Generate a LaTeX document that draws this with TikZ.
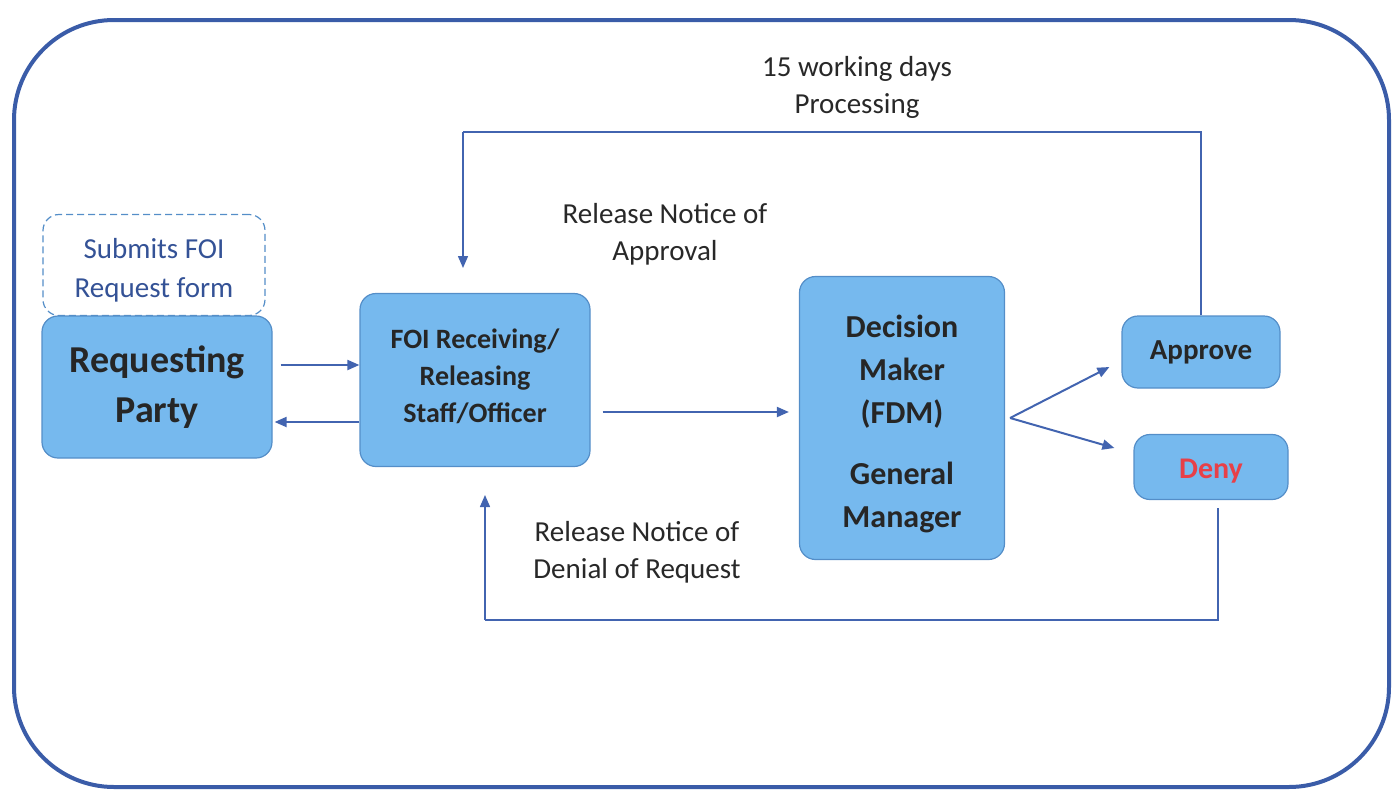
\documentclass[tikz,border=0pt]{standalone}
\usepackage{fontspec}
\setmainfont{Carlito}
\usetikzlibrary{arrows.meta,calc}
\definecolor{framecol}{RGB}{58,92,168}
\definecolor{boxfill}{RGB}{118,185,238}
\definecolor{boxline}{RGB}{84,142,200}
\definecolor{linkcol}{RGB}{66,100,176}
\definecolor{notecol}{RGB}{52,82,150}
\definecolor{denycol}{RGB}{232,64,72}
\definecolor{txtcol}{RGB}{40,40,40}
\tikzset{
  actor/.style={draw=boxline, line width=1.2pt, fill=boxfill, rounded corners=16pt},
  actortext/.style={align=center, text=black!85},
  note/.style={draw=boxline, dash pattern=on 7pt off 4pt, line width=1.2pt, rounded corners=16pt},
  notetext/.style={align=center, text=notecol},
  flow/.style={draw=linkcol, line width=2pt, -{Triangle[length=12pt,width=10pt]}},
  loop/.style={draw=linkcol, line width=1.5pt},
  loopend/.style={loop, -{Triangle[length=12pt,width=10pt]}},
  lbl/.style={align=center, text=txtcol, font=\fontsize{29}{37}\selectfont}
}
\begin{document}
\begin{tikzpicture}[x=1pt,y=-1pt]
\useasboundingbox (0,0) rectangle (1392,795);
% outer frame
\draw[framecol, line width=4pt, rounded corners=100pt] (14,20) rectangle (1389,787);

% boxes
\node[note, minimum width=222pt, minimum height=101pt] (sub) at (154,265) {};
\node[actor, minimum width=230pt, minimum height=142pt] (rp) at (157,387) {};
\node[actor, minimum width=230pt, minimum height=173pt] (foi) at (475,380) {};
\node[actor, minimum width=205pt, minimum height=283pt] (dm) at (902,418) {};
\node[actor, minimum width=158pt, minimum height=72pt] (ap) at (1201,352) {};
\node[actor, minimum width=154pt, minimum height=65pt] (dn) at (1211,467) {};

% box texts
\node[notetext, font=\fontsize{29}{39}\selectfont] (subT) at ($(sub)+(0,5)$)
  {Submits FOI\\Request form};
\node[actortext, font=\bfseries\fontsize{38}{50}\selectfont] (rpT) at (rp)
  {Requesting\\Party};
\node[actortext, font=\bfseries\fontsize{28}{37}\selectfont] (foiT) at ($(foi)+(0,-4)$)
  {FOI Receiving/\\Releasing\\Staff/Officer};
\node[actortext, font=\bfseries\fontsize{32}{43}\selectfont] (dmT) at ($(dm)+(0,6)$)
  {Decision\\Maker\\(FDM)\\[18pt]General\\Manager};
\node[actortext, font=\bfseries\fontsize{29}{30}\selectfont] (apT) at (ap) {Approve};
\node[actortext, font=\bfseries\fontsize{30}{30}\selectfont, text=denycol] (dnT) at ($(dn)+(0,4)$) {Deny};

% helper levels
\coordinate (yA) at (0,365);
\coordinate (yB) at (0,422);
\coordinate (yC) at (0,412);

% request and reply between requester and staff
\draw[flow] ([xshift=8pt]rp.east |- yA) -- (foi.west |- yA);
\draw[flow] (foi.west |- yB) -- ([xshift=2pt]rp.east |- yB);
% staff to decision maker
\draw[flow] ([xshift=12pt]foi.east |- yC) -- ([xshift=-10pt]dm.west |- yC);
% decision branches
\coordinate (split) at ($(dm.east)+(5,0)$);
\draw[flow] (split) -- ($(ap.west)+(-12,15)$);
\draw[flow] (split) -- ($(dn.west)+(-19,-19)$);

% approval loop back to the staff
\coordinate (apTop) at (1201,132);
\coordinate (foiTop) at (463,132);
\draw[loop] (ap.north) -- (apTop) -- (foiTop);
\draw[loopend] (foiTop) -- (463,268);

% denial loop back to the staff
\coordinate (dnBot) at (1218,620);
\coordinate (foiBot) at (485,620);
\draw[loop] ([xshift=7pt,yshift=-8pt]dn.south) -- (dnBot) -- (foiBot);
\draw[loopend] (foiBot) -- (485,495);

% labels
\node[lbl] (days) at (857,87) {15 working days\\Processing};
\node[lbl] (appr) at (665,234) {Release Notice of\\Approval};
\node[lbl] (deny) at (637,552) {Release Notice of\\Denial of Request};
\end{tikzpicture}
\end{document}
